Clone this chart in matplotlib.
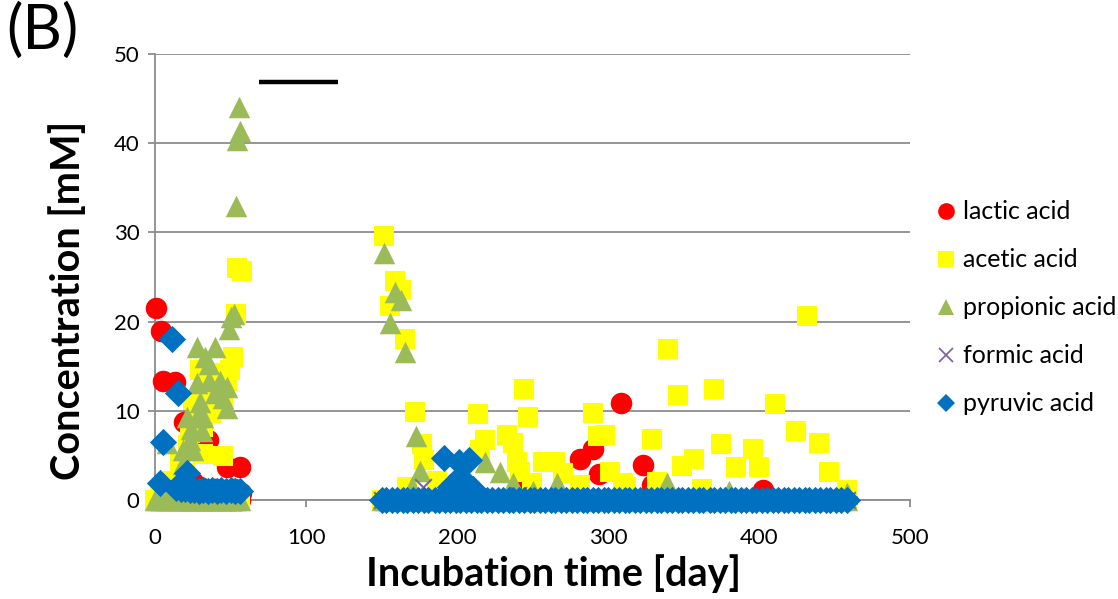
import matplotlib
matplotlib.use("Agg")
import matplotlib.pyplot as plt
from matplotlib.lines import Line2D

# ---------------- data ----------------
# sampling days where the acids sit at (about) zero
early_days = [0, 2, 4, 7, 9, 11, 14, 16, 18, 21, 23, 25, 28, 30, 32, 35, 37, 39, 42, 44, 46, 49, 51, 53, 56]
late_days = [150, 153, 157, 160, 164, 167, 171, 174, 178, 181, 185, 188, 192, 195, 199, 202, 206, 209,
             213, 216, 220, 223, 227, 230, 234, 237, 241, 244, 248, 251, 255, 258, 262, 265, 269, 272,
             276, 279, 283, 286, 290, 293, 297, 300, 304, 307, 311, 314, 318, 321, 325, 328, 332, 335,
             339, 342, 346, 349, 353, 356, 360, 363, 367, 370, 374, 377, 381, 384, 388, 391, 395, 398,
             402, 405, 409, 412, 416, 419, 423, 426, 430, 433, 437, 440, 444, 447, 451, 454, 458]

lactic_day = [1, 4, 5, 13, 19, 35, 48, 56, 57, 25, 30, 40, 45, 52,
              241.7, 281, 289.8, 293.6, 308.6, 323, 329, 402.4]
lactic_conc = [21.5, 19.0, 13.4, 13.2, 8.8, 6.7, 3.7, 3.7, 0.8, 2.0, 1.5, 1.2, 1.0, 1.2,
               1.7, 4.6, 5.7, 2.9, 10.9, 3.9, 1.7, 1.1]

acetic_day = [54, 57.6, 53.6, 51.7, 49.7, 29.8, 47.5, 34.2, 45, 25, 31.8, 23, 32, 16.6, 12, 3.3,
              37, 40, 43, 27, 22, 45, 20, 50, 10, 55, 38, 42,
              151.7, 159, 162.7, 155.6, 165.6, 172, 176.6, 213.5, 244, 246.6, 218.5, 233, 237, 215,
              257, 265, 239.5, 241.7, 270, 186.5, 166.7, 178, 249.5, 281.5,
              289.8, 293.4, 298, 301, 310, 329, 332, 431.6, 339.5, 346, 369.8, 410.6,
              424.5, 439.7, 374.8, 395.8, 356.5, 348.8, 384.5, 400, 446, 312, 362, 458]
acetic_conc = [26.0, 25.7, 20.9, 16.0, 14.6, 14.6, 13.4, 11.6, 11.2, 11.2, 8.2, 7.5, 5.2, 4.1, 2.2, 0.8,
               9.8, 12.7, 14.2, 10.3, 6.2, 5.0, 3.0, 1.0, 0.5, 0.5, 13.0, 10.5,
               29.6, 24.6, 23.5, 21.8, 18.1, 9.9, 6.3, 9.7, 12.4, 9.3, 6.7, 7.3, 6.4, 5.6,
               4.3, 4.3, 4.3, 3.2, 3.0, 2.2, 1.5, 4.5, 1.9, 1.7,
               9.8, 7.2, 7.3, 3.2, 1.9, 6.9, 2.0, 20.6, 16.9, 11.8, 12.5, 10.8,
               7.7, 6.4, 6.3, 5.7, 4.6, 3.8, 3.7, 3.7, 3.2, 1.5, 1.3, 1.1]

propionic_day = [55.8, 56.3, 54, 53.6, 52.3, 49.2, 50.5, 27.6, 39.7, 36, 33, 43, 48, 36, 27.6, 48,
                 21, 27.6, 31.8, 31, 23, 7.7, 18.5, 25, 18.5, 45, 40, 30, 24, 2,
                 151.7, 159, 162.7, 155.6, 165.6, 172.8, 175.5, 170, 218.5, 228.5, 237, 266,
                 339, 458, 205, 250, 380]
propionic_conc = [44.0, 41.4, 40.3, 33.0, 20.9, 19.2, 20.5, 17.2, 17.2, 15.3, 16.0, 13.4, 12.7, 13.4, 13.1, 10.3,
                  9.3, 9.3, 9.3, 7.8, 6.7, 6.4, 5.6, 5.6, 4.1, 11.5, 12.0, 11.0, 8.0, 0.3,
                  27.7, 23.3, 22.4, 19.8, 16.6, 7.2, 3.3, 1.5, 4.3, 3.1, 1.9, 1.9,
                  1.9, 0.8, 1.0, 1.0, 1.0]

formic_day = [177.5, 200, 240]
formic_conc = [1.5, 0.8, 0.6]

pyruvic_day = [11, 15, 5.5, 3.3, 21, 14, 17, 20, 23, 26, 29, 32, 35, 38, 41, 44, 47, 50, 53, 56,
               191, 201, 207.5, 202, 195, 210.8]
pyruvic_conc = [18.1, 12.0, 6.5, 1.9, 3.0, 1.4, 1.2, 1.2, 1.1, 1.1, 1.0, 1.1, 1.0, 1.1, 1.0, 1.1, 1.0, 1.1, 1.0, 1.0,
                4.7, 4.3, 4.5, 2.6, 1.5, 1.3]

# horizontal bar marking a period (days, mM)
bar_days = [69, 121]
bar_level = [46.8, 46.8]

# ---------------- plot ----------------
plt.rcParams['font.family'] = ['Lato', 'DejaVu Sans']

fig = plt.figure(figsize=(11.18, 5.99), dpi=100)
ax = fig.add_axes([0.1386, 0.165, 0.8144 - 0.1386, 0.91 - 0.165])

red = '#FF0000'
yellow = '#FFFF00'
green = '#9BBB59'
purple = '#8064A2'
blue = '#0070C0'

ms = 15.5
s = ms ** 2

zero_early = [0.0] * len(early_days)
zero_late = [0.0] * len(late_days)

kw = dict(clip_on=False)
# lactic
ax.scatter(early_days[8:] + late_days + lactic_day, zero_early[8:] + zero_late + lactic_conc,
           s=s, marker='o', color=red, linewidths=0, zorder=3, **kw)
# acetic
ax.scatter(early_days + late_days + acetic_day, zero_early + zero_late + acetic_conc,
           s=s * 0.85, marker='s', color=yellow, linewidths=0, zorder=4, **kw)
# propionic
ax.scatter(early_days + late_days + propionic_day, zero_early + zero_late + propionic_conc,
           s=s * 1.0, marker='^', color=green, linewidths=0, zorder=5, **kw)
# formic
ax.scatter(late_days + formic_day, zero_late + formic_conc,
           s=s * 0.6, marker='x', color=purple, linewidths=1.5, zorder=6, **kw)
# pyruvic
ax.scatter(late_days + pyruvic_day, zero_late + pyruvic_conc,
           s=s * 0.8, marker='D', color=blue, linewidths=0, zorder=7, **kw)

ax.plot(bar_days, bar_level, color='black', linewidth=3.2, solid_capstyle='butt', zorder=8)

ax.set_xlim(0, 500)
ax.set_ylim(0, 50)
ax.set_xticks([0, 100, 200, 300, 400, 500])
ax.set_yticks([0, 10, 20, 30, 40, 50])
ax.grid(axis='y', color='#8C8C8C', linewidth=1.3, zorder=0)
ax.set_axisbelow(True)
for sp in ['top', 'right']:
    ax.spines[sp].set_visible(False)
for sp in ['left', 'bottom']:
    ax.spines[sp].set_color('#8C8C8C')
    ax.spines[sp].set_linewidth(1.3)
ax.tick_params(axis='both', colors='#8C8C8C', labelcolor='black', labelsize=16,
               length=5, width=1.3, direction='out')
ax.tick_params(axis='y', pad=6)
ax.tick_params(axis='x', pad=15)

ax.set_xlabel('Incubation time [day]', fontsize=28.5, fontweight='bold')
ax.xaxis.set_label_coords(0.527, -0.122)
ax.xaxis.label.set_verticalalignment('top')
ax.set_ylabel('Concentration [mM]', fontsize=28.5, fontweight='bold')
ax.yaxis.set_label_coords(-0.09, 0.448)

fig.text(0.006, 0.995, '(B)', fontsize=44, va='top', ha='left')

handles = [
    Line2D([], [], marker='o', color=red, linestyle='none', markersize=12, markeredgewidth=0),
    Line2D([], [], marker='s', color=yellow, linestyle='none', markersize=11.5, markeredgewidth=0),
    Line2D([], [], marker='^', color=green, linestyle='none', markersize=12, markeredgewidth=0),
    Line2D([], [], marker='x', color=purple, linestyle='none', markersize=10, markeredgewidth=1.3),
    Line2D([], [], marker='D', color=blue, linestyle='none', markersize=9, markeredgewidth=0),
]
labels = ['lactic acid', 'acetic acid', 'propionic acid', 'formic acid', 'pyruvic acid']
fig.legend(handles, labels, loc='center left', bbox_to_anchor=(0.818, 0.486), frameon=False,
           fontsize=18, handlelength=0.7, handletextpad=0.35, labelspacing=1.0)

fig.savefig('out.png', dpi=100)
